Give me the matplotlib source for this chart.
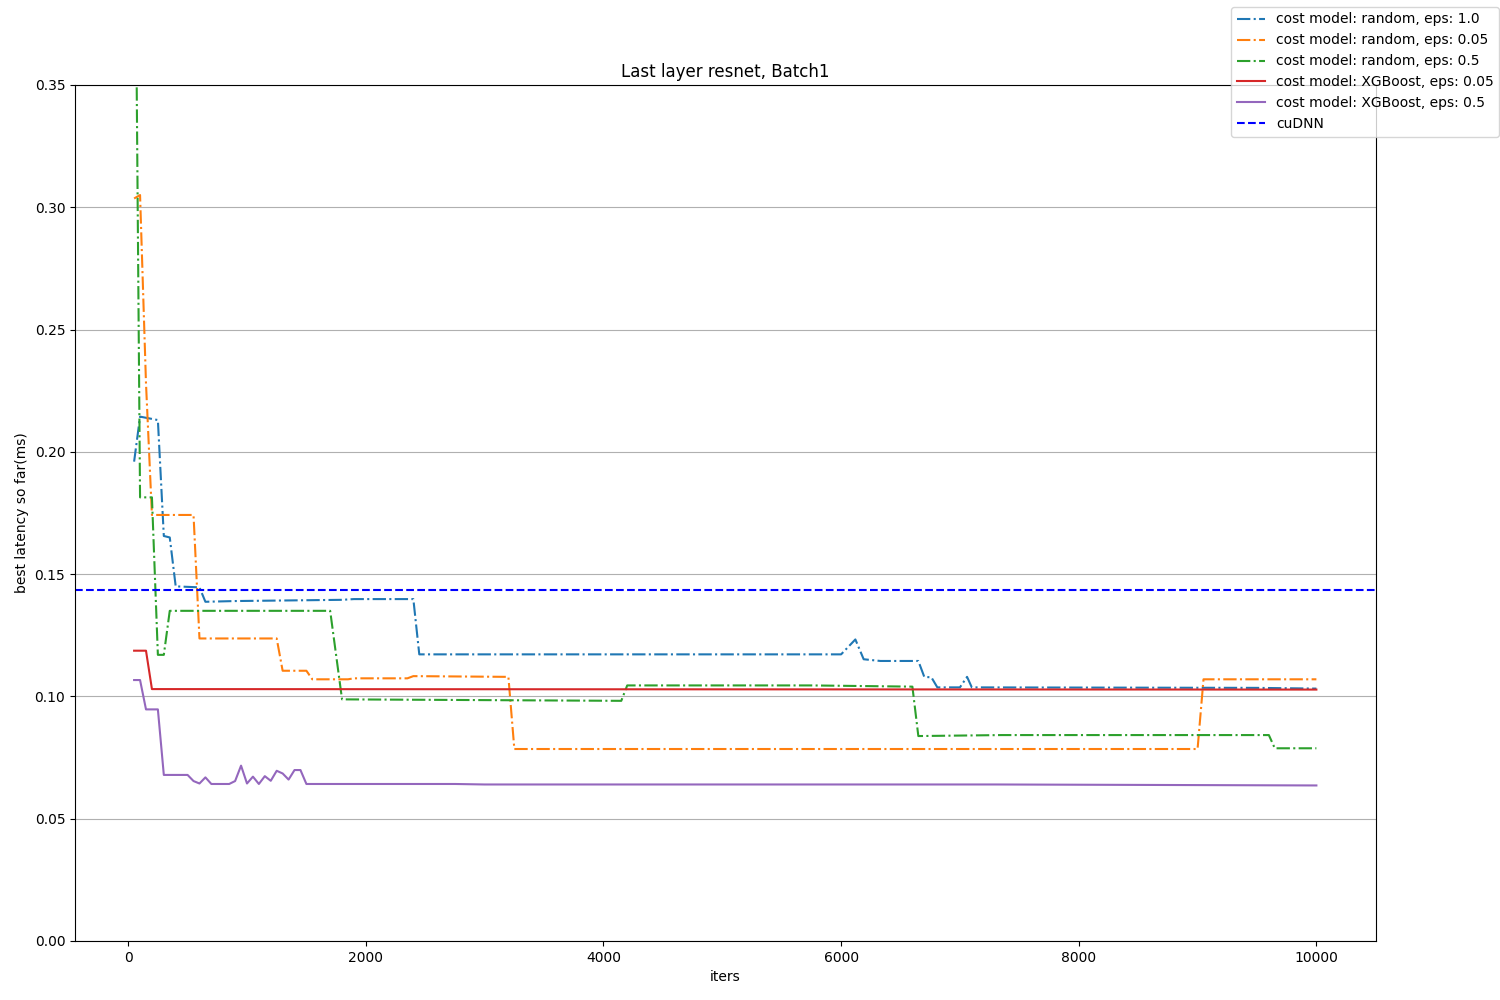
import numpy as np
import matplotlib
matplotlib.use('Agg')
import matplotlib.pyplot as plt

rand_10_x = [50, 100, 250, 300, 350, 400, 600, 650, 900, 1800, 1900, 2400, 2450,
             6000, 6120, 6190, 6330, 6650, 6700, 6760, 6810, 7000, 7060, 7100, 9500, 10000]
rand_10_y = [0.196, 0.2144, 0.213, 0.1656, 0.165, 0.145, 0.1446, 0.1387, 0.139, 0.1395, 0.1398, 0.1398, 0.1172,
             0.1172, 0.1233, 0.1152, 0.1145, 0.1145, 0.108, 0.1078, 0.1037, 0.1037, 0.108, 0.1037, 0.1035, 0.1032]

rand_005_x = [50, 100, 150, 200, 550, 600, 1250, 1300, 1500, 1550, 1850, 1900, 2350, 2400,
              3200, 3250, 9000, 9050, 10000]
rand_005_y = [0.3036, 0.305, 0.228, 0.1742, 0.1742, 0.1237, 0.1237, 0.1105, 0.1105, 0.107, 0.107, 0.1074, 0.1074, 0.1083,
              0.108, 0.0785, 0.0785, 0.107, 0.107]

rand_05_x = [50, 100, 200, 250, 300, 350, 1700, 1800, 4150, 4200, 5750, 6600, 6650,
             7350, 9600, 9650, 10000]
rand_05_y = [0.48, 0.1814, 0.1814, 0.117, 0.117, 0.135, 0.135, 0.0988, 0.0982, 0.1045, 0.1045, 0.104, 0.0838,
             0.0842, 0.0842, 0.0788, 0.0788]

xgb_005_x = [50, 150, 200, 10000]
xgb_005_y = [0.1187, 0.1187, 0.103, 0.1028]

xgb_05_x = [50, 100, 150, 250, 300, 500, 550, 600, 650, 700, 850, 900, 950, 1000, 1050, 1100,
            1150, 1200, 1250, 1300, 1350, 1400, 1450, 1500, 2750, 3000, 7300, 10000]
xgb_05_y = [0.1067, 0.1067, 0.0947, 0.0947, 0.0679, 0.0679, 0.0654, 0.0644, 0.0669, 0.0642, 0.0642, 0.0654,
            0.0717, 0.0644, 0.0672, 0.0642, 0.0674, 0.0655, 0.0696, 0.0685, 0.066, 0.0699, 0.0699, 0.0642,
            0.0642, 0.064, 0.064, 0.0636]

cudnn = 0.1435

fig = plt.figure(figsize=(15, 10), dpi=100)
ax = fig.add_axes([0.05, 0.059, 0.867, 0.856])

ax.plot(rand_10_x, rand_10_y, '-.', label='cost model: random, eps: 1.0')
ax.plot(rand_005_x, rand_005_y, '-.', label='cost model: random, eps: 0.05')
ax.plot(rand_05_x, rand_05_y, '-.', label='cost model: random, eps: 0.5')
ax.plot(xgb_005_x, xgb_005_y, '-', label='cost model: XGBoost, eps: 0.05')
ax.plot(xgb_05_x, xgb_05_y, '-', label='cost model: XGBoost, eps: 0.5')
ax.axhline(cudnn, color='b', linestyle='--', label='cuDNN')

ax.set_ylim(0, 0.35)
ax.yaxis.grid(True, color='#b0b0b0')
ax.set_title('Last layer resnet, Batch1')
ax.set_xlabel('iters')
ax.set_ylabel('best latency so far(ms)')
fig.legend(loc='upper right', bbox_to_anchor=(1.004, 1.0))

plt.savefig('out.png')
